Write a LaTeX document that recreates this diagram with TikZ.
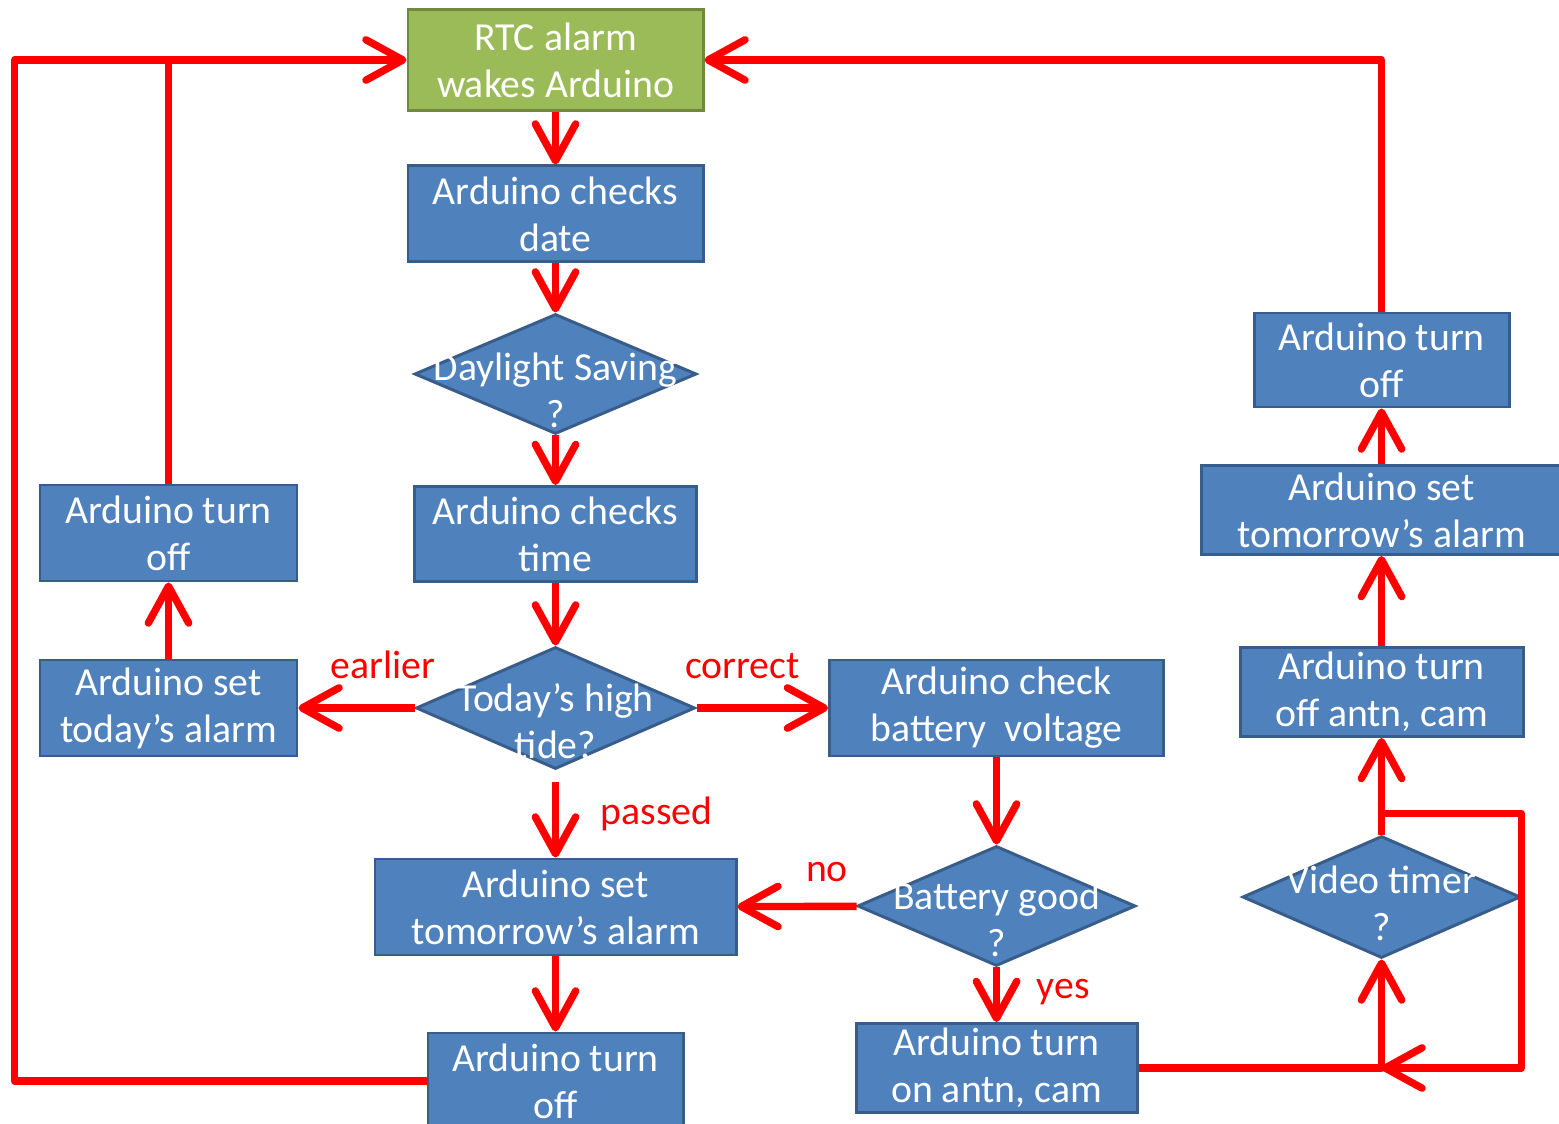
\documentclass[tikz,border=0pt]{standalone}
\usepackage{fontspec}
\setmainfont{Carlito}
\usepackage{tikz}
\usetikzlibrary{shapes.geometric, arrows.meta}

\definecolor{boxblue}{HTML}{4F81BD}
\definecolor{boxedge}{HTML}{385D8A}
\definecolor{wakegreen}{HTML}{9BBB59}
\definecolor{wakeedge}{HTML}{71893F}
\newcommand{\boxfont}{\fontsize{11.3}{13.4}\selectfont}

\tikzstyle{wake} = [
    rectangle, 
    minimum width=2.95cm, minimum height=1.01cm,
    text centered, align=center, inner sep=0pt,
    text=white, font=\boxfont,
    line width=0.85pt, draw=wakeedge, fill=wakegreen]
\tikzstyle{process} = [
    rectangle, 
    minimum width=2.95cm, minimum height=0.96cm, 
    text centered, align=center, inner sep=0pt,
    text=white, font=\boxfont,
    line width=0.85pt, draw=boxedge, fill=boxblue]
\tikzstyle{decision} = [
    diamond, 
    minimum width=2.8cm, minimum height=1.2cm, 
    inner sep=0pt,
    line width=0.85pt, draw=boxedge, fill=boxblue]
\tikzstyle{question} = [text=white, align=center, font=\boxfont, yshift=-0.16cm]
\tikzstyle{answer} = [text=red, font=\boxfont]
\tikzstyle{redline} = [line width=2.1pt, draw=red, line join=round]
\tikzstyle{arrow} = [redline, -{Straight Barb[length=10.5pt, width=11.5pt, round]}]

\begin{document}
\begin{tikzpicture}[node distance=1.6cm]
        \useasboundingbox (0,0) rectangle (15.59,-11.24);

        \node (rtc) [wake] at (5.555,-0.60) {RTC alarm\\wakes Arduino};
        \node (date) [process, below of=rtc, yshift=0.06cm] {Arduino checks\\date};
        \node (dst) [decision, below of=date, minimum width=2.82cm,
            label={[question]center:{Daylight Saving\\?}}] {};
        \node (time) [process, below of=dst, minimum width=2.82cm, minimum height=0.95cm] {Arduino checks\\time};
        \node (tide) [decision, below of=time, yshift=-0.14cm, minimum width=2.79cm, minimum height=1.22cm,
            label={[question, yshift=0.03cm]center:{Today’s high\\tide?}}] {};

        \node (settoday) [process, left of=tide, xshift=-2.27cm, minimum width=2.57cm] {Arduino set\\today’s alarm};
        \node (offleft) [process, above of=settoday, yshift=0.15cm, minimum width=2.57cm] {Arduino turn\\off};

        \node (setmid) [process, below of=tide, yshift=-0.39cm, minimum width=3.61cm] {Arduino set\\tomorrow’s alarm};
        \node (offbottom) [process, below of=setmid, yshift=-0.14cm, minimum width=2.55cm] {Arduino turn\\off};

        \node (check) [process, right of=tide, xshift=2.81cm, minimum width=3.34cm] {Arduino check\\battery\ \ voltage};
        \node (battery) [decision, below of=check, yshift=-0.38cm, minimum width=2.78cm,
            label={[question, yshift=0.03cm]center:{Battery good\\?}}] {};
        \node (onantn) [process, below of=battery, yshift=-0.02cm, minimum width=2.81cm, minimum height=0.89cm] {Arduino turn\\on antn, cam};

        \node (video) [decision, right of=battery, xshift=2.25cm, yshift=0.09cm, minimum width=2.78cm, minimum height=1.22cm,
            label={[question, yshift=0.1cm]center:{Video timer\\?}}] {};
        \node (offantn) [process, above of=video, yshift=0.45cm, minimum width=2.83cm, minimum height=0.89cm] {Arduino turn\\off antn, cam};
        \node (setright) [process, above of=offantn, yshift=0.22cm, minimum width=3.6cm, minimum height=0.89cm] {Arduino set\\tomorrow’s alarm};
        \node (offright) [process, above of=setright, yshift=-0.10cm, minimum width=2.55cm, minimum height=0.94cm] {Arduino turn\\off};

        % main column
        \draw [arrow] (rtc) -- (date);
        \draw [arrow] (date) -- (dst);
        \draw [arrow] (dst) -- (time);
        \draw [arrow] (time) -- (tide);

        \draw [arrow] (tide) -- node[answer, above, pos=0.27, yshift=4pt] (lbl_earlier) {earlier} (settoday);
        \draw [arrow] (tide) -- node[answer, above, pos=0.35, yshift=4pt] (lbl_correct) {correct} (check);
        \draw [arrow, shorten <=0.12cm] (tide) -- node[answer, right, xshift=0.3cm] (lbl_passed) {passed} (setmid);
        \draw [arrow] (setmid) -- (offbottom);

        % left branch
        \draw [arrow] (settoday) -- (offleft);
        \draw [redline] (offleft) -- (offleft |- rtc.west);
        \draw [arrow] (offbottom.west) -- ++(-4.12cm,0) |- (rtc.west);

        % battery branch
        \draw [arrow] (check) -- (battery);
        \draw [arrow] (battery) -- node[answer, above, pos=0.25, yshift=2.5pt] (lbl_no) {no} (setmid);
        \draw [arrow] (battery) -- node[answer, right, xshift=0.25cm, yshift=0.03cm] (lbl_yes) {yes} (onantn);

        % video branch
        \draw [arrow] (onantn) -| (video);
        \draw [arrow] ([yshift=0.21cm]video.north) -- ++(1.4cm,0) |- (video.south |- onantn.east);
        \draw [arrow] (video) -- (offantn);
        \draw [arrow] (offantn) -- (setright);
        \draw [arrow] (setright) -- (offright);
        \draw [arrow] (offright) |- (rtc.east);
    \end{tikzpicture}
\end{document}
